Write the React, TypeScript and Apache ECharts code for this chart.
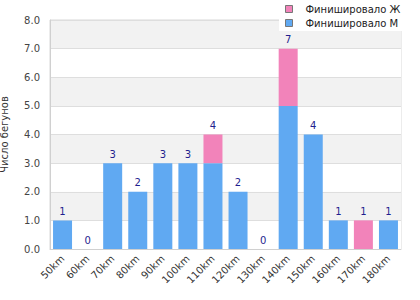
import React, { useEffect, useRef } from "react";
import * as echarts from "echarts";

const categories = ["50km", "60km", "70km", "80km", "90km", "100km", "110km", "120km", "130km", "140km", "150km", "160km", "170km", "180km"];
const maleFinished = [1, 0, 3, 2, 3, 3, 3, 2, 0, 5, 4, 1, 0, 1];
const femaleFinished = [0, 0, 0, 0, 0, 0, 1, 0, 0, 2, 0, 0, 1, 0];
const yTicks = [0, 1, 2, 3, 4, 5, 6, 7, 8];

const FONT = "DejaVu Sans";

export default function App() {
  const ref = useRef<HTMLDivElement>(null);
  useEffect(() => {
    if (!ref.current) return;
    const chart = echarts.init(ref.current, null, { renderer: "svg" });
    const totals = categories.map((_, i) => maleFinished[i] + femaleFinished[i]);
    chart.setOption({
      animation: false,
      textStyle: { fontFamily: FONT },
      grid: {
        left: 50, right: 19, top: 20, bottom: 51,
        containLabel: false, outerBoundsMode: "none",
        show: true, borderColor: "#d9d9d9", borderWidth: 1, backgroundColor: "transparent",
      },
      legend: {
        orient: "vertical",
        left: 279,
        top: 0,
        icon: "path://M0,0H7V7H0Z M15,0",
        itemWidth: 15,
        itemHeight: 7,
        itemGap: 4,
        backgroundColor: "#fff",
        padding: [4, 7, 3, 6],
        textStyle: { fontFamily: FONT, fontSize: 10, color: "#222" },
        itemStyle: { borderColor: "#777", borderWidth: 1 },
        data: ["Финишировало Ж", "Финишировало М"],
      },
      xAxis: {
        type: "category",
        data: categories,
        axisLine: { show: true, lineStyle: { color: "#d0d0d0" } },
        axisTick: { show: false },
        axisLabel: { rotate: 45, fontSize: 10, color: "#333", fontFamily: FONT, margin: 8 },
      },
      yAxis: {
        type: "value",
        min: yTicks[0],
        max: yTicks[yTicks.length - 1],
        interval: 1,
        name: "Число бегунов",
        nameLocation: "middle",
        nameGap: 41,
        nameTextStyle: { fontSize: 10, color: "#333", fontFamily: FONT },
        axisLine: { show: true, lineStyle: { color: "#d0d0d0" } },
        axisTick: { show: false },
        axisLabel: { fontSize: 10, color: "#444", fontFamily: FONT, formatter: (v: number) => v.toFixed(1), margin: 10 },
        splitLine: { show: true, lineStyle: { color: "#dedede" } },
        splitArea: { show: true, areaStyle: { color: ["#ffffff", "#f2f2f2"] } },
      },
      series: [
        {
          name: "Финишировало М",
          type: "bar",
          stack: "s",
          data: maleFinished,
          barWidth: 19,
          itemStyle: { color: "#60a9f2" },
        },
        {
          name: "Финишировало Ж",
          type: "bar",
          stack: "s",
          data: femaleFinished,
          barWidth: 19,
          itemStyle: { color: "#f283ba" },
        },
        {
          name: "total",
          type: "bar",
          stack: "s",
          data: totals.map(() => 0),
          barWidth: 19,
          itemStyle: { color: "transparent" },
          label: {
            show: true,
            position: "top",
            distance: 4,
            fontSize: 10,
            color: "#1f1f8f",
            fontFamily: FONT,
            formatter: (p: any) => String(totals[p.dataIndex]),
          },
        },
      ],
    });
    return () => chart.dispose();
  }, []);
  return <div ref={ref} style={{ width: 420, height: 300, position: "absolute", left: 0, top: 0 }} />;
}
